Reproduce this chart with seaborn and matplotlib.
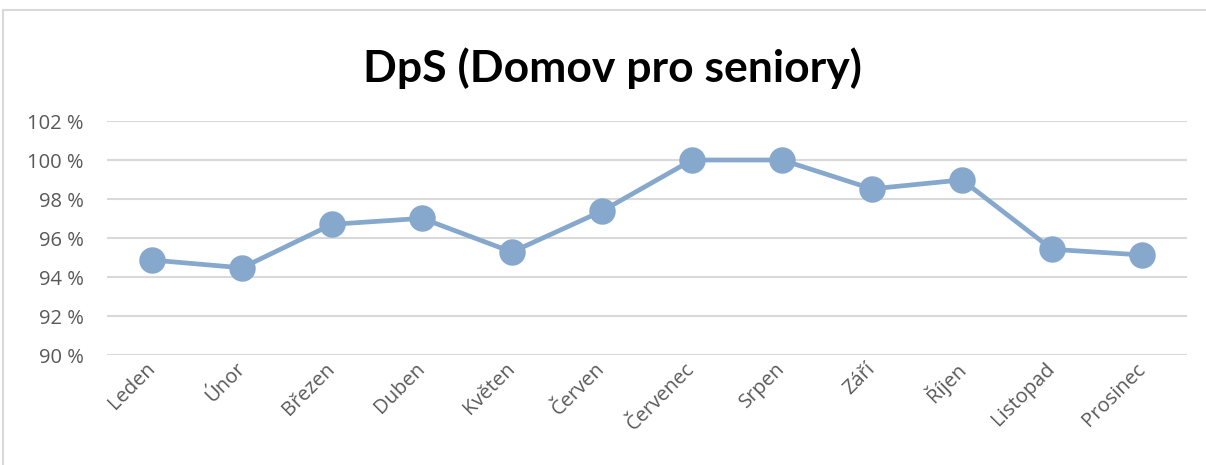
import matplotlib
matplotlib.use("Agg")
import matplotlib.pyplot as plt
from matplotlib.ticker import FuncFormatter, MultipleLocator
from matplotlib.lines import Line2D
import seaborn as sns

months = ["Leden", "Únor", "Březen", "Duben", "Květen", "Červen",
          "Červenec", "Srpen", "Září", "Říjen", "Listopad", "Prosinec"]
occupancy = [94.87, 94.47, 96.70, 97.01, 95.28, 97.38,
             100.0, 100.0, 98.52, 98.98, 95.42, 95.13]
title = "DpS (Domov pro seniory)"

sns.set_theme(style="white")
plt.rcParams["font.family"] = ["Open Sans", "DejaVu Sans"]

W, H = 1206, 465
fig = plt.figure(figsize=(W / 100, H / 100), dpi=100)
ax = fig.add_axes([107 / W, 1 - 355 / H, (1187 - 107) / W, (355 - 121) / H])

line_color = "#86a8cd"
sns.pointplot(x=months, y=occupancy, ax=ax, color=line_color,
              markers="o", linestyles="-", markersize=16.5, linewidth=3.4,
              errorbar=None)

ax.set_ylim(90, 102)
ax.set_xlim(-0.5, len(months) - 0.5)
ax.yaxis.set_major_locator(MultipleLocator(2))
ax.yaxis.set_major_formatter(FuncFormatter(lambda v, p: f"{v:.0f} %"))
ax.grid(axis="y", color="#d9d9d9", linewidth=1.5)
ax.set_axisbelow(True)
for s in ax.spines.values():
    s.set_visible(False)
ax.set_xlabel("")
ax.set_ylabel("")
ax.tick_params(axis="both", length=0, labelsize=14.5, colors="#595959")
ax.tick_params(axis="y", pad=17)
ax.tick_params(axis="x", pad=8)
for lab in ax.get_xticklabels():
    lab.set_rotation(45)
    lab.set_ha("right")
    lab.set_va("center")
    lab.set_rotation_mode("anchor")

fig.text(0.508, 1 - 68 / H, title, ha="center", va="center",
         fontsize=32, fontweight="bold", color="black", family=["Lato", "DejaVu Sans"])

# chart frame (top and left edges visible)
fig.add_artist(Line2D([3 / W, 3 / W], [0, 1 - 10 / H], transform=fig.transFigure,
                      color="#d9d9d9", linewidth=1.5))
fig.add_artist(Line2D([3 / W, 1], [1 - 10 / H, 1 - 10 / H], transform=fig.transFigure,
                      color="#d9d9d9", linewidth=1.5))

fig.savefig("out.png", dpi=100, facecolor="white")
